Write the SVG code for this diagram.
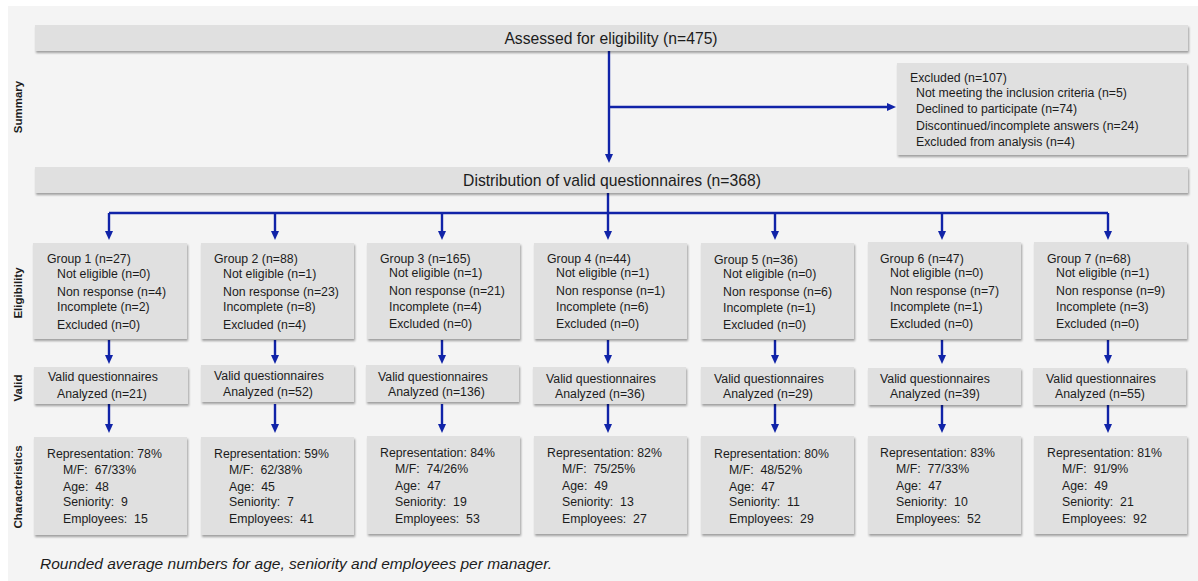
<svg xmlns="http://www.w3.org/2000/svg" width="1198" height="581" viewBox="0 0 1198 581">
  <defs>
    <filter id="shadow" x="-5%" y="-10%" width="110%" height="130%">
      <feDropShadow dx="1" dy="2" stdDeviation="1.3" flood-color="#000" flood-opacity="0.35"/>
    </filter>
    <marker id="arrow" markerUnits="userSpaceOnUse" markerWidth="10" markerHeight="9" refX="3" refY="4" orient="auto">
      <path d="M0,0 L9,4 L0,8 z" fill="#1023a8"/>
    </marker>
  </defs>
  <style>
    .box { fill: #e0e0e0; filter: url(#shadow); }
    .t { font-family: "Liberation Sans", Arial, sans-serif; fill: #1c1c1c; white-space: pre; }
    .big { font-size: 15.7px; text-anchor: middle; }
    .sm { font-size: 12.3px; }
    .side { font-family: "Liberation Sans", Arial, sans-serif; font-size: 11.5px; font-weight: bold; fill: #1c1c1c; text-anchor: middle; }
    .note { font-size: 15.5px; font-style: italic; }
    .conn { stroke: #1023a8; stroke-width: 2.4; fill: none; }
    .arr { marker-end: url(#arrow); }
  </style>

  <!-- panel -->
  <rect x="0" y="0" width="1198" height="581" fill="#ffffff"/>
  <rect x="8" y="6" width="1190" height="575" fill="#f4f4f4"/>

  <!-- row labels -->
  <g id="row-labels">
    <text class="side" transform="translate(22,107) rotate(-90)">Summary</text>
    <text class="side" transform="translate(22,293) rotate(-90)">Eligibility</text>
    <text class="side" transform="translate(22,388) rotate(-90)">Valid</text>
    <text class="side" transform="translate(22,487) rotate(-90)">Characteristics</text>
  </g>

  <!-- connectors -->
  <g id="connectors">
    <line class="conn" x1="609" y1="51" x2="609" y2="107"/>
    <line class="conn arr" x1="609" y1="107" x2="609" y2="157"/>
    <line class="conn arr" x1="609" y1="107" x2="890" y2="107"/>
    <line class="conn" x1="608" y1="193" x2="608" y2="213"/>
    <line class="conn" x1="109" y1="213" x2="1108" y2="213"/>
    <g class="arr">
      <line class="conn arr" x1="109" y1="213" x2="109" y2="234"/>
      <line class="conn arr" x1="275" y1="213" x2="275" y2="234"/>
      <line class="conn arr" x1="442" y1="213" x2="442" y2="234"/>
      <line class="conn arr" x1="608" y1="213" x2="608" y2="234"/>
      <line class="conn arr" x1="775" y1="213" x2="775" y2="234"/>
      <line class="conn arr" x1="942" y1="213" x2="942" y2="234"/>
      <line class="conn arr" x1="1108" y1="213" x2="1108" y2="234"/>

      <line class="conn arr" x1="109" y1="340" x2="109" y2="358"/>
      <line class="conn arr" x1="275" y1="340" x2="275" y2="358"/>
      <line class="conn arr" x1="442" y1="340" x2="442" y2="358"/>
      <line class="conn arr" x1="608" y1="340" x2="608" y2="358"/>
      <line class="conn arr" x1="775" y1="340" x2="775" y2="358"/>
      <line class="conn arr" x1="942" y1="340" x2="942" y2="358"/>
      <line class="conn arr" x1="1108" y1="340" x2="1108" y2="358"/>

      <line class="conn arr" x1="109" y1="404" x2="109" y2="427"/>
      <line class="conn arr" x1="275" y1="404" x2="275" y2="427"/>
      <line class="conn arr" x1="442" y1="404" x2="442" y2="427"/>
      <line class="conn arr" x1="608" y1="404" x2="608" y2="427"/>
      <line class="conn arr" x1="775" y1="404" x2="775" y2="427"/>
      <line class="conn arr" x1="942" y1="404" x2="942" y2="427"/>
      <line class="conn arr" x1="1108" y1="404" x2="1108" y2="427"/>
    </g>
  </g>

  <!-- summary -->
  <g id="assessed">
    <rect class="box" x="35" y="25" width="1153" height="26"/>
    <text class="t big" x="611" y="44">Assessed for eligibility (n=475)</text>
  </g>
  <g id="excluded">
    <rect class="box" x="897" y="63" width="290" height="92"/>
    <text class="t sm" x="910" y="82">Excluded (n=107)</text>
    <text class="t sm" x="916" y="97">Not meeting the inclusion criteria (n=5)</text>
    <text class="t sm" x="916" y="113">Declined to participate (n=74)</text>
    <text class="t sm" x="916" y="130">Discontinued/incomplete answers (n=24)</text>
    <text class="t sm" x="916" y="146">Excluded from analysis (n=4)</text>
  </g>
  <g id="distribution">
    <rect class="box" x="35" y="167" width="1153" height="26"/>
    <text class="t big" x="612" y="186">Distribution of valid questionnaires (n=368)</text>
  </g>

  <!-- group 1 -->
  <g id="group1-eligibility">
    <rect class="box" x="33" y="243" width="154" height="96"/>
    <text class="t sm" x="47" y="263">Group 1 (n=27)</text>
    <text class="t sm" x="57" y="278">Not eligible (n=0)</text>
    <text class="t sm" x="57" y="296">Non response (n=4)</text>
    <text class="t sm" x="57" y="311">Incomplete (n=2)</text>
    <text class="t sm" x="57" y="329">Excluded (n=0)</text>
  </g>
  <g id="group1-valid">
    <rect class="box" x="34" y="367" width="154" height="37"/>
    <text class="t sm" x="48" y="381">Valid questionnaires</text>
    <text class="t sm" x="57" y="398">Analyzed (n=21)</text>
  </g>
  <g id="group1-characteristics">
    <rect class="box" x="34" y="437" width="153" height="98"/>
    <text class="t sm" x="47" y="458">Representation: 78%</text>
    <text class="t sm" x="63" y="474">M/F:  67/33%</text>
    <text class="t sm" x="63" y="491">Age:  48</text>
    <text class="t sm" x="63" y="506">Seniority:  9</text>
    <text class="t sm" x="63" y="523">Employees:  15</text>
  </g>

  <!-- group 2 -->
  <g id="group2-eligibility">
    <rect class="box" x="201" y="243" width="153" height="96"/>
    <text class="t sm" x="214" y="263">Group 2 (n=88)</text>
    <text class="t sm" x="223" y="278">Not eligible (n=1)</text>
    <text class="t sm" x="223" y="296">Non response (n=23)</text>
    <text class="t sm" x="223" y="311">Incomplete (n=8)</text>
    <text class="t sm" x="223" y="329">Excluded (n=4)</text>
  </g>
  <g id="group2-valid">
    <rect class="box" x="201" y="365" width="153" height="37"/>
    <text class="t sm" x="214" y="380">Valid questionnaires</text>
    <text class="t sm" x="223" y="396">Analyzed (n=52)</text>
  </g>
  <g id="group2-characteristics">
    <rect class="box" x="201" y="437" width="153" height="98"/>
    <text class="t sm" x="214" y="458">Representation: 59%</text>
    <text class="t sm" x="229" y="474">M/F:  62/38%</text>
    <text class="t sm" x="229" y="491">Age:  45</text>
    <text class="t sm" x="229" y="506">Seniority:  7</text>
    <text class="t sm" x="229" y="523">Employees:  41</text>
  </g>

  <!-- group 3 -->
  <g id="group3-eligibility">
    <rect class="box" x="367" y="243" width="153" height="96"/>
    <text class="t sm" x="380" y="263">Group 3 (n=165)</text>
    <text class="t sm" x="389" y="277">Not eligible (n=1)</text>
    <text class="t sm" x="389" y="295">Non response (n=21)</text>
    <text class="t sm" x="389" y="311">Incomplete (n=4)</text>
    <text class="t sm" x="389" y="328">Excluded (n=0)</text>
  </g>
  <g id="group3-valid">
    <rect class="box" x="366" y="365" width="153" height="37"/>
    <text class="t sm" x="378" y="381">Valid questionnaires</text>
    <text class="t sm" x="388" y="396">Analyzed (n=136)</text>
  </g>
  <g id="group3-characteristics">
    <rect class="box" x="367" y="436" width="153" height="98"/>
    <text class="t sm" x="380" y="457">Representation: 84%</text>
    <text class="t sm" x="395" y="473">M/F:  74/26%</text>
    <text class="t sm" x="395" y="490">Age:  47</text>
    <text class="t sm" x="395" y="506">Seniority:  19</text>
    <text class="t sm" x="395" y="523">Employees:  53</text>
  </g>

  <!-- group 4 -->
  <g id="group4-eligibility">
    <rect class="box" x="534" y="243" width="153" height="96"/>
    <text class="t sm" x="547" y="263">Group 4 (n=44)</text>
    <text class="t sm" x="556" y="277">Not eligible (n=1)</text>
    <text class="t sm" x="556" y="295">Non response (n=1)</text>
    <text class="t sm" x="556" y="311">Incomplete (n=6)</text>
    <text class="t sm" x="556" y="328">Excluded (n=0)</text>
  </g>
  <g id="group4-valid">
    <rect class="box" x="533" y="367" width="153" height="37"/>
    <text class="t sm" x="546" y="383">Valid questionnaires</text>
    <text class="t sm" x="555" y="398">Analyzed (n=36)</text>
  </g>
  <g id="group4-characteristics">
    <rect class="box" x="534" y="436" width="153" height="98"/>
    <text class="t sm" x="547" y="457">Representation: 82%</text>
    <text class="t sm" x="562" y="473">M/F:  75/25%</text>
    <text class="t sm" x="562" y="490">Age:  49</text>
    <text class="t sm" x="562" y="506">Seniority:  13</text>
    <text class="t sm" x="562" y="523">Employees:  27</text>
  </g>

  <!-- group 5 -->
  <g id="group5-eligibility">
    <rect class="box" x="701" y="243" width="153" height="96"/>
    <text class="t sm" x="714" y="264">Group 5 (n=36)</text>
    <text class="t sm" x="723" y="278">Not eligible (n=0)</text>
    <text class="t sm" x="723" y="296">Non response (n=6)</text>
    <text class="t sm" x="723" y="312">Incomplete (n=1)</text>
    <text class="t sm" x="723" y="329">Excluded (n=0)</text>
  </g>
  <g id="group5-valid">
    <rect class="box" x="701" y="367" width="153" height="37"/>
    <text class="t sm" x="714" y="383">Valid questionnaires</text>
    <text class="t sm" x="723" y="398">Analyzed (n=29)</text>
  </g>
  <g id="group5-characteristics">
    <rect class="box" x="701" y="436" width="153" height="98"/>
    <text class="t sm" x="714" y="458">Representation: 80%</text>
    <text class="t sm" x="729" y="474">M/F:  48/52%</text>
    <text class="t sm" x="729" y="491">Age:  47</text>
    <text class="t sm" x="729" y="506">Seniority:  11</text>
    <text class="t sm" x="729" y="523">Employees:  29</text>
  </g>

  <!-- group 6 -->
  <g id="group6-eligibility">
    <rect class="box" x="868" y="242" width="153" height="97"/>
    <text class="t sm" x="880" y="263">Group 6 (n=47)</text>
    <text class="t sm" x="890" y="277">Not eligible (n=0)</text>
    <text class="t sm" x="890" y="295">Non response (n=7)</text>
    <text class="t sm" x="890" y="311">Incomplete (n=1)</text>
    <text class="t sm" x="890" y="328">Excluded (n=0)</text>
  </g>
  <g id="group6-valid">
    <rect class="box" x="868" y="368" width="153" height="37"/>
    <text class="t sm" x="880" y="383">Valid questionnaires</text>
    <text class="t sm" x="890" y="398">Analyzed (n=39)</text>
  </g>
  <g id="group6-characteristics">
    <rect class="box" x="868" y="436" width="153" height="98"/>
    <text class="t sm" x="880" y="457">Representation: 83%</text>
    <text class="t sm" x="896" y="473">M/F:  77/33%</text>
    <text class="t sm" x="896" y="490">Age:  47</text>
    <text class="t sm" x="896" y="506">Seniority:  10</text>
    <text class="t sm" x="896" y="523">Employees:  52</text>
  </g>

  <!-- group 7 -->
  <g id="group7-eligibility">
    <rect class="box" x="1034" y="242" width="153" height="97"/>
    <text class="t sm" x="1047" y="263">Group 7 (n=68)</text>
    <text class="t sm" x="1056" y="277">Not eligible (n=1)</text>
    <text class="t sm" x="1056" y="295">Non response (n=9)</text>
    <text class="t sm" x="1056" y="311">Incomplete (n=3)</text>
    <text class="t sm" x="1056" y="328">Excluded (n=0)</text>
  </g>
  <g id="group7-valid">
    <rect class="box" x="1033" y="368" width="153" height="37"/>
    <text class="t sm" x="1046" y="383">Valid questionnaires</text>
    <text class="t sm" x="1055" y="398">Analyzed (n=55)</text>
  </g>
  <g id="group7-characteristics">
    <rect class="box" x="1034" y="436" width="153" height="98"/>
    <text class="t sm" x="1047" y="457">Representation: 81%</text>
    <text class="t sm" x="1062" y="473">M/F:  91/9%</text>
    <text class="t sm" x="1062" y="490">Age:  49</text>
    <text class="t sm" x="1062" y="506">Seniority:  21</text>
    <text class="t sm" x="1062" y="523">Employees:  92</text>
  </g>

  <!-- footnote -->
  <text class="t note" x="40" y="569">Rounded average numbers for age, seniority and employees per manager.</text>
</svg>
